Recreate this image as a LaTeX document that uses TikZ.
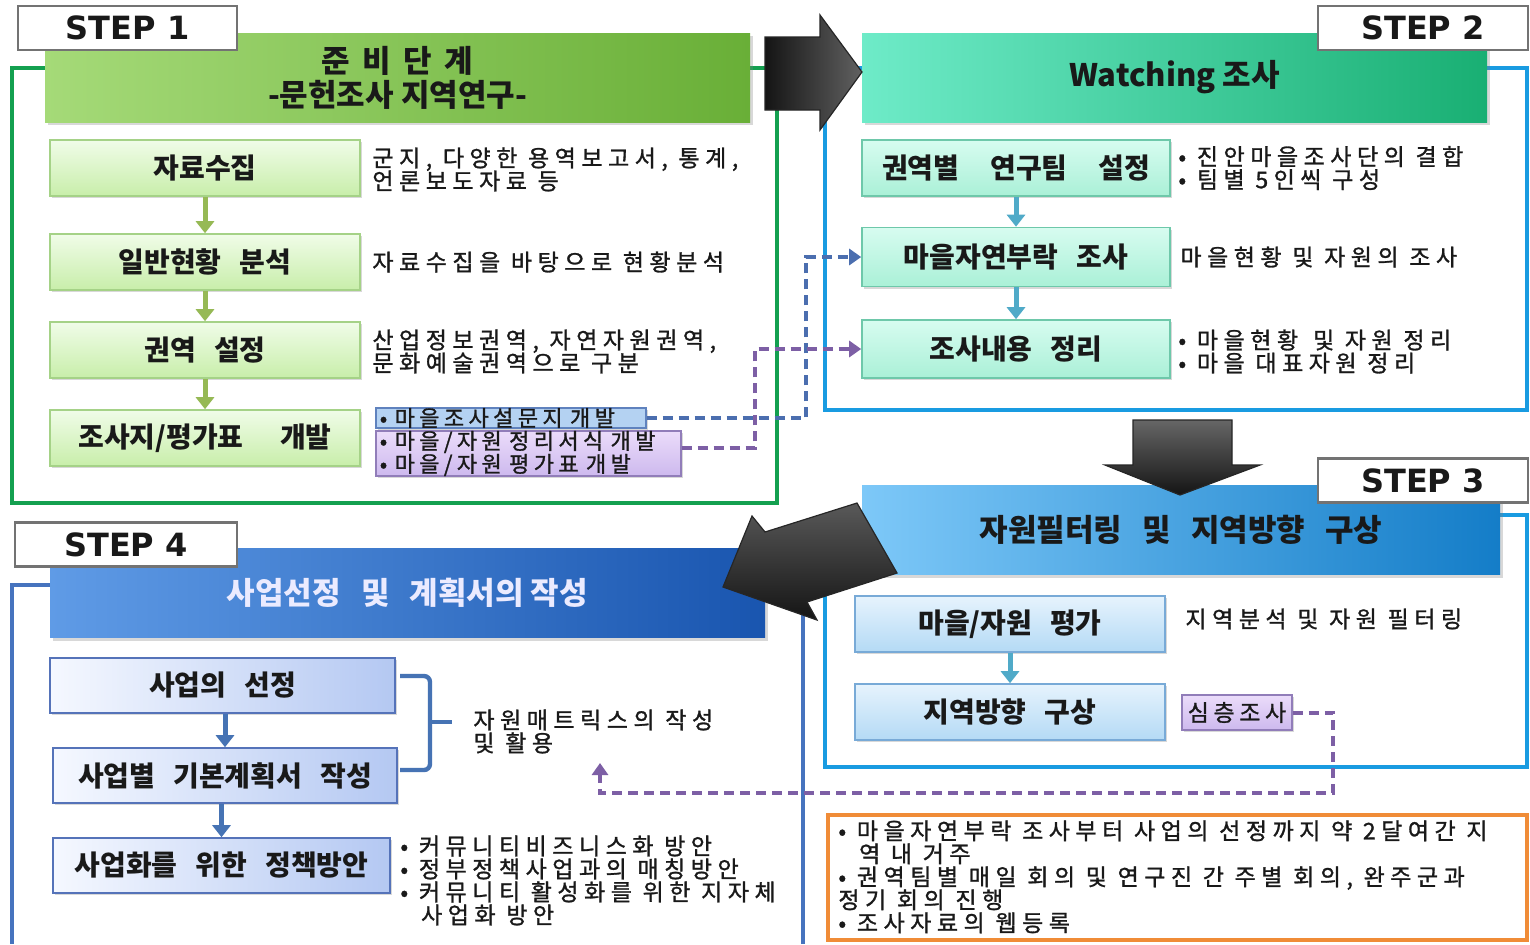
\documentclass[tikz,border=0pt]{standalone}
\usepackage{fontspec}
\setmainfont{Noto Sans CJK KR}
\newfontfamily\descfont{Noto Sans CJK KR}[LetterSpace=24,FakeBold=1.2]
\newfontfamily\smallfont{Noto Sans CJK KR}[LetterSpace=20,FakeBold=1.2]
\newfontfamily\stepfont{DejaVu Sans}
\usetikzlibrary{shadows,arrows.meta}
\setlength{\lineskiplimit}{-20pt}
\newcommand\gp{\hspace{0.65em}}
\definecolor{grfr}{RGB}{20,160,80}
\definecolor{h1l}{RGB}{165,218,120}
\definecolor{h1r}{RGB}{105,175,55}
\definecolor{g1t}{RGB}{240,252,232}
\definecolor{g1b}{RGB}{200,238,170}
\definecolor{g1d}{RGB}{165,210,135}
\definecolor{garr}{RGB}{150,185,85}
\definecolor{bfr}{RGB}{25,155,225}
\definecolor{h2l}{RGB}{110,235,200}
\definecolor{h2r}{RGB}{25,175,115}
\definecolor{t2t}{RGB}{215,252,240}
\definecolor{t2b}{RGB}{170,240,215}
\definecolor{t2d}{RGB}{110,200,170}
\definecolor{tarr}{RGB}{80,170,200}
\definecolor{h3l}{RGB}{125,200,248}
\definecolor{h3r}{RGB}{20,125,200}
\definecolor{b3t}{RGB}{230,243,253}
\definecolor{b3b}{RGB}{180,218,245}
\definecolor{b3d}{RGB}{120,170,215}
\definecolor{sfr}{RGB}{70,115,190}
\definecolor{h4l}{RGB}{95,155,230}
\definecolor{h4r}{RGB}{25,85,175}
\definecolor{b4l}{RGB}{245,248,255}
\definecolor{b4r}{RGB}{180,200,242}
\definecolor{b4d}{RGB}{85,115,185}
\definecolor{sarr}{RGB}{70,115,180}
\definecolor{pdc}{RGB}{125,95,165}
\definecolor{bdc}{RGB}{75,110,175}
\definecolor{sbl}{RGB}{180,210,242}
\definecolor{sbd}{RGB}{95,130,190}
\definecolor{spt}{RGB}{235,220,250}
\definecolor{spb}{RGB}{205,185,238}
\definecolor{spd}{RGB}{145,125,185}
\definecolor{org}{RGB}{240,140,55}
\definecolor{txt}{RGB}{25,25,25}
\begin{document}
\begin{tikzpicture}[x=0.5pt,y=-0.5pt,
  stepbox/.style={draw=black!55, line width=1.3pt, fill=white, inner sep=0pt,
    minimum width=109.5pt, minimum height=22pt,
    font=\stepfont\bfseries\fontsize{16}{18}\selectfont, text=txt},
  hdr/.style={inner sep=0pt, align=center, minimum height=44.5pt,
    font=\bfseries\fontsize{15.5}{17}\selectfont, text=txt,
    drop shadow={shadow xshift=1.5pt,shadow yshift=-1.5pt,opacity=0.3}},
  bx/.style={draw, line width=0.8pt, inner sep=0pt, minimum height=28pt,
    font=\bfseries\fontsize{14}{16}\selectfont, text=txt,
    drop shadow={shadow xshift=1.2pt,shadow yshift=-1.2pt,opacity=0.3}},
  gbox/.style={bx, draw=g1d, top color=g1t, bottom color=g1b, minimum width=155pt},
  tbox/.style={bx, draw=t2d, top color=t2t, bottom color=t2b, minimum width=154pt},
  lbox/.style={bx, draw=b3d, top color=b3t, bottom color=b3b, minimum width=155pt},
  sbox/.style={bx, draw=b4d, left color=b4l, right color=b4r},
  desc/.style={anchor=west, align=left, inner sep=0pt,
    font=\descfont\fontsize{11.5}{11.5}\selectfont, text=txt},
  tag/.style={line width=0.8pt, inner xsep=2pt, inner ysep=0pt, align=left, text=txt,
    font=\smallfont\fontsize{11}{11.5}\selectfont,
    drop shadow={shadow xshift=1pt,shadow yshift=-1pt,opacity=0.3}},
  conn/.style={line width=2.5pt, -{Triangle[width=9pt,length=6pt]}},
  dline/.style={line width=2pt, dash pattern=on 5pt off 3pt},
  bigarrow/.style={draw=black!85, line width=0.6pt}
]
\useasboundingbox (0,0) rectangle (1530,944);
\fill[white] (0,0) rectangle (1530,944);

% ---------- frames ----------
\draw[grfr, line width=2pt] (12,68) rectangle (777,503);
\draw[bfr, line width=2pt] (825,68) rectangle (1527,410);
\draw[bfr, line width=2pt] (825,515) rectangle (1527,767);
\draw[sfr, line width=1.6pt] (803,944) -- (803,585) -- (12,585) -- (12,944);
\draw[org, line width=1.6pt] (828,815) rectangle (1527,940);

% ---------- headers ----------
\node[hdr, minimum width=352.5pt, left color=h1l, right color=h1r] (h1) at (397.5,77.5)
  {준\hspace{0.4em}비\hspace{0.4em}단\hspace{0.4em}계\\-문헌조사 지역연구-};
\node[hdr, minimum width=312.5pt, left color=h2l, right color=h2r] (h2) at (1174.5,77.5)
  {Watching 조사};
\node[hdr, minimum width=319pt, left color=h3l, right color=h3r] (h3) at (1181,530)
  {자원필터링\gp 및\gp 지역방향\gp 구상};
\node[hdr, minimum width=357.5pt, left color=h4l, right color=h4r, text=white!92!blue] (h4) at (407.5,593)
  {사업선정\gp 및\gp 계획서의 작성};

% ---------- step 1 ----------
\node[gbox] (b11) at (205,168) {자료수집};
\node[gbox] (b12) at (205,262) {일반현황\gp 분석};
\node[gbox] (b13) at (205,350) {권역\gp 설정};
\node[gbox] (b14) at (205,438) {조사지/평가표\hspace{1.3em}개발};
\draw[conn, garr] (b11) -- (b12);
\draw[conn, garr] (b12) -- (b13);
\draw[conn, garr] (b13) -- (b14);
\node[desc] (d11) at (372,169.5) {군지, 다양한 용역보고서, 통계,\\언론보도자료 등};
\node[desc] (d12) at (372,262) {자료수집을 바탕으로 현황분석};
\node[desc] (d13) at (372,351.5) {산업정보권역, 자연자원권역,\\문화예술권역으로 구분};
\node[tag, draw=sbd, fill=sbl, anchor=west, text width=131pt, minimum height=10pt] (s1) at (375,418)
  {• 마을조사설문지 개발};
\node[tag, draw=spd, top color=spt, bottom color=spb, anchor=west, text width=148.5pt, minimum height=22.5pt] (p1) at (375,453.5)
  {• 마을/자원 정리서식 개발\\• 마을/자원 평가표 개발};

% ---------- step 2 ----------
\node[tbox] (b21) at (1016,168) {권역별\hspace{1.1em}연구팀\hspace{1.1em}설정};
\node[tbox, minimum height=29.5pt] (b22) at (1016,257) {마을자연부락\gp 조사};
\node[tbox, minimum height=29pt] (b23) at (1016,349) {조사내용\gp 정리};
\draw[conn, tarr] (b21) -- (b22);
\draw[conn, tarr] (b22) -- (b23);
\node[desc] (d21) at (1178,168) {• 진안마을조사단의 결합\\• 팀별 5인씩 구성};
\node[desc] (d22) at (1180,257) {마을현황 및 자원의 조사};
\node[desc] (d23) at (1178,351.5) {• 마을현황\gp 및 자원 정리\\• 마을 대표자원 정리};

% ---------- step 3 ----------
\node[lbox] (b31) at (1010,624) {마을/자원\gp 평가};
\node[lbox] (b32) at (1010,712) {지역방향\gp 구상};
\draw[conn, tarr] (b31) -- (b32);
\node[desc] (d31) at (1185,619) {지역분석 및 자원 필터링};
\node[tag, draw=spd, top color=spt, bottom color=spb, inner sep=0pt,
  minimum width=55pt, minimum height=17.5pt, font=\smallfont\fontsize{11.5}{12}\selectfont] (s3) at (1237,712.5) {심층조사};

% ---------- step 4 ----------
\node[sbox, minimum width=172.5pt, minimum height=27.5pt] (b41) at (222.5,685.5) {사업의\gp 선정};
\node[sbox, minimum width=172pt, minimum height=27.5pt] (b42) at (225,775.5) {사업별\gp 기본계획서\gp 작성};
\node[sbox, minimum width=168.5pt, minimum height=27.5pt] (b43) at (221.5,865.5) {사업화를\gp 위한\gp 정책방안};
\draw[conn, sarr] (b41.south -| b42) -- (b42);
\draw[conn, sarr] (b42.south -| b43) -- (b43);
\coordinate (br1) at (400,676);
\coordinate (br2) at (430,676);
\coordinate (br3) at (430,770);
\coordinate (br4) at (400,770);
\coordinate (brm) at (430,722);
\coordinate (brt) at (452,722);
\draw[sarr, line width=2.2pt, rounded corners=3pt] (br1) -- (br2) -- (br3) -- (br4);
\draw[sarr, line width=2.2pt] (brm) -- (brt);
\node[desc] (d41) at (473,731.5) {자원매트릭스의 작성\\및 활용};
\node[desc] (d43) at (400,880.5) {• 커뮤니티비즈니스화 방안\\• 정부정책사업과의 매칭방안\\• 커뮤니티 활성화를 위한 지자체\\\hspace{0.9em}사업화 방안};

% ---------- orange note ----------
\node[desc, anchor=north west] (on) at (838,820)
  {• 마을자연부락 조사부터 사업의 선정까지 약 2달여간 지\\\hspace{0.9em}역 내 거주\\• 권역팀별 매일 회의 및 연구진 간 주별 회의, 완주군과\\정기 회의 진행\\• 조사자료의 웹등록};

% ---------- step labels ----------
\node[stepbox] (st1) at (127.5,28) {STEP 1};
\node[stepbox, minimum width=105pt] (st2) at (1423,28) {STEP 2};
\node[stepbox, minimum width=105pt] (st3) at (1423,480.5) {STEP 3};
\node[stepbox, minimum width=111pt] (st4) at (126,544.5) {STEP 4};

% ---------- big arrows ----------
\shade[bigarrow, left color=black!92, right color=black!62]
  (765,37) -- (820,37) -- (820,15) -- (862,72) -- (820,130) -- (820,110) -- (765,110) -- cycle;
\shade[bigarrow, top color=black!60, bottom color=black!92]
  (1133,420) -- (1232,420) -- (1232,465) -- (1260,465) -- (1180,495) -- (1105,465) -- (1133,465) -- cycle;
\shade[bigarrow, shading angle=30, top color=black!65, bottom color=black!92]
  (857,503) -- (765,532) -- (752,516) -- (723,587) -- (817,620) -- (807,602) -- (897,573) -- cycle;

% ---------- dashed connectors ----------
\coordinate (c1) at (806,418);
\draw[dline, bdc, -{Triangle[width=8pt,length=6pt]}] (s1.east) -- (c1) |- (b22.west);
\coordinate (c2) at (755,448);
\draw[dline, pdc, -{Triangle[width=8pt,length=6pt]}] (p1.east |- c2) -- (c2) |- (b23.west);
\coordinate (c3) at (1333,712.5);
\coordinate (c4) at (1333,793);
\coordinate (c5) at (600,793);
\coordinate (c6) at (600,763);
\draw[dline, pdc, -{Triangle[width=8pt,length=6pt]}] (s3.east) -- (c3) -- (c4) -- (c5) -- (c6);
\end{tikzpicture}
\end{document}
